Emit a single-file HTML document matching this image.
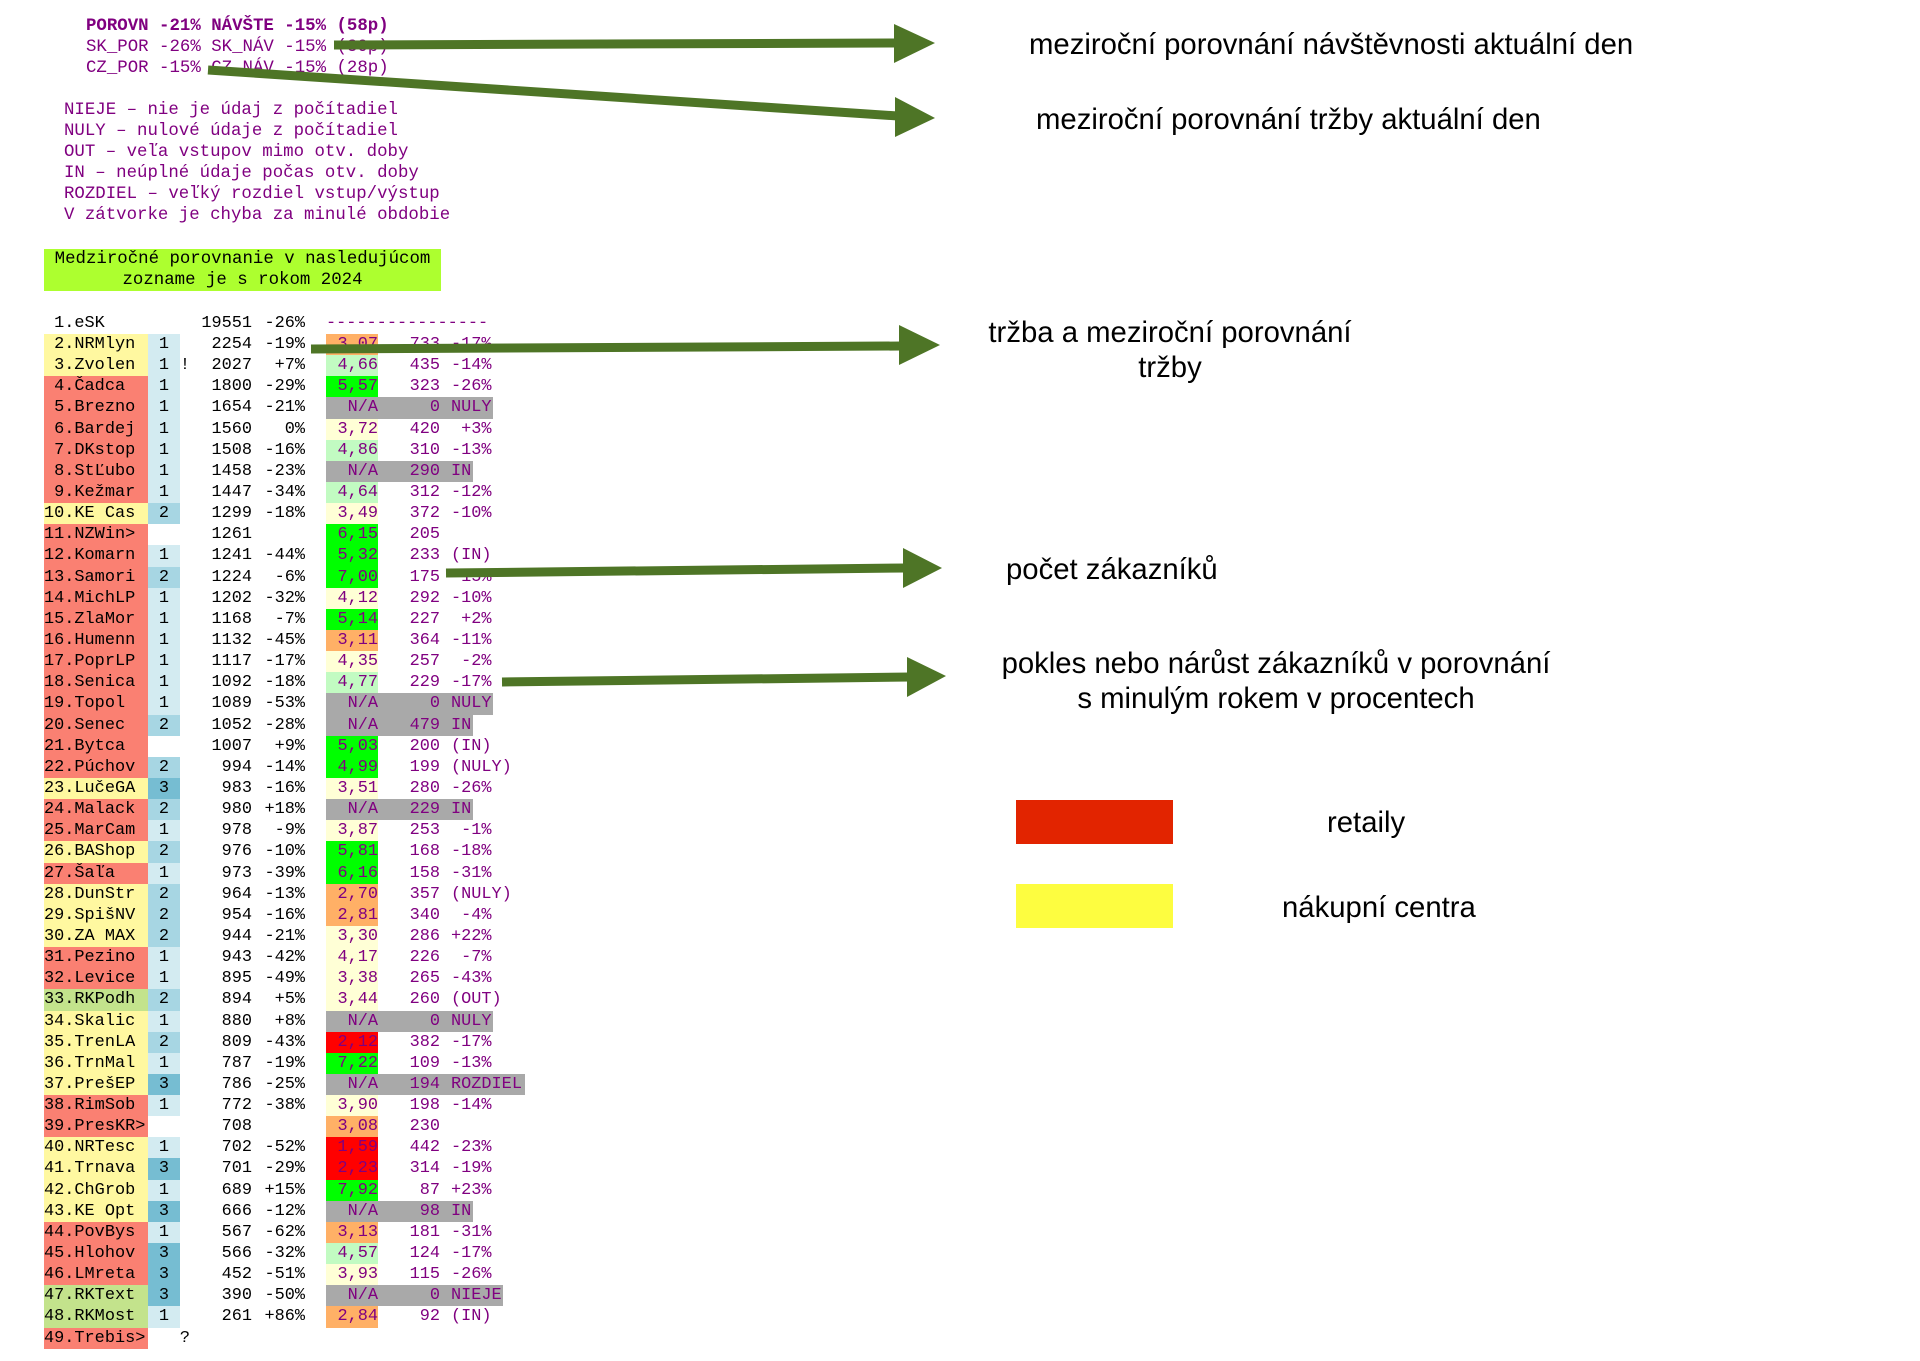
<!DOCTYPE html>
<html><head><meta charset="utf-8">
<style>
body{margin:0;background:#fff;width:1920px;height:1361px;position:relative;overflow:hidden}
.m{font-family:"Liberation Mono","DejaVu Sans Mono",monospace;white-space:pre;position:absolute}
.top{font-size:17.4px;color:#800080;line-height:21px}
.tb{position:absolute;left:0;top:334px;width:600px}
.r{position:relative;height:21.15px;font-family:"Liberation Mono",monospace;font-size:16.9px;line-height:21.15px;white-space:pre}
.r div{position:absolute;top:0;height:21.15px}
.n{left:44px;width:104px}
.S{background:#fa8072}.Y{background:#fff8a0}.K{background:#c3e38c}
.c{left:148px;width:32px;text-align:center}
.c1{background:#d3ebf1}.c2{background:#a7d6e3}.c3{background:#76bdd2}
.x{left:179px;width:12px;text-align:center}
.v{left:150px;width:102px;text-align:right}
.p{left:252px;width:53px;text-align:right}
.g{left:326px;background:#a9a9a9}
.s{left:326px;width:52px;text-align:right;color:#800080}
.O{background:#ffb066}.LG{background:#c2fbc2}.G{background:#00ff00}.LY{background:#ffffd6}.R{background:#ff0000}
.k{left:380px;width:60px;text-align:right;color:#800080}
.f{left:451px;color:#800080}
.a{position:absolute;font-family:"Liberation Sans",Arial,sans-serif;font-size:29.3px;line-height:30px;color:#000;white-space:nowrap}
</style></head><body>
<div class="m top" style="left:86px;top:16px;font-weight:bold">POROVN -21% NÁVŠTE -15% (58p)</div>
<div class="m top" style="left:86px;top:37px">SK_POR -26% SK_NÁV -15% (30p)</div>
<div class="m top" style="left:86px;top:58px">CZ_POR -15% CZ_NÁV -15% (28p)</div>
<div class="m top" style="left:64px;top:100px">NIEJE – nie je údaj z počítadiel
NULY – nulové údaje z počítadiel
OUT – veľa vstupov mimo otv. doby
IN – neúplné údaje počas otv. doby
ROZDIEL – veľký rozdiel vstup/výstup
V zátvorke je chyba za minulé obdobie</div>
<div class="m" style="left:44px;top:249px;width:397px;height:42px;background:#adff2f;font-size:17.4px;line-height:21px;text-align:center;color:#000">Medziročné porovnanie v nasledujúcom
zozname je s rokom 2024</div>

<div class="r" style="position:absolute;left:0;top:313px;width:600px"><div class="n"> 1.eSK</div><div class="v">19551</div><div class="p">-26%</div><div class="s" style="width:167px;text-align:left">----------------</div></div>

<div class="tb">
<div class="r"><div class="n Y"> 2.NRMlyn</div><div class="c c1">1</div><div class="v">2254</div><div class="p">-19%</div><div class="s O">3,07</div><div class="k">733</div><div class="f">-17%</div></div>
<div class="r"><div class="n Y"> 3.Zvolen</div><div class="c c1">1</div><div class="x">!</div><div class="v">2027</div><div class="p">+7%</div><div class="s LG">4,66</div><div class="k">435</div><div class="f">-14%</div></div>
<div class="r"><div class="n S"> 4.Čadca</div><div class="c c1">1</div><div class="v">1800</div><div class="p">-29%</div><div class="s G">5,57</div><div class="k">323</div><div class="f">-26%</div></div>
<div class="r"><div class="n S"> 5.Brezno</div><div class="c c1">1</div><div class="v">1654</div><div class="p">-21%</div><div class="g" style="width:167px"></div><div class="s">N/A</div><div class="k">0</div><div class="f">NULY</div></div>
<div class="r"><div class="n S"> 6.Bardej</div><div class="c c1">1</div><div class="v">1560</div><div class="p">0%</div><div class="s LY">3,72</div><div class="k">420</div><div class="f"> +3%</div></div>
<div class="r"><div class="n S"> 7.DKstop</div><div class="c c1">1</div><div class="v">1508</div><div class="p">-16%</div><div class="s LG">4,86</div><div class="k">310</div><div class="f">-13%</div></div>
<div class="r"><div class="n S"> 8.StĽubo</div><div class="c c1">1</div><div class="v">1458</div><div class="p">-23%</div><div class="g" style="width:147px"></div><div class="s">N/A</div><div class="k">290</div><div class="f">IN</div></div>
<div class="r"><div class="n S"> 9.Kežmar</div><div class="c c1">1</div><div class="v">1447</div><div class="p">-34%</div><div class="s LG">4,64</div><div class="k">312</div><div class="f">-12%</div></div>
<div class="r"><div class="n Y">10.KE Cas</div><div class="c c2">2</div><div class="v">1299</div><div class="p">-18%</div><div class="s LY">3,49</div><div class="k">372</div><div class="f">-10%</div></div>
<div class="r"><div class="n S">11.NZWin&gt;</div><div class="v">1261</div><div class="s G">6,15</div><div class="k">205</div></div>
<div class="r"><div class="n S">12.Komarn</div><div class="c c1">1</div><div class="v">1241</div><div class="p">-44%</div><div class="s G">5,32</div><div class="k">233</div><div class="f">(IN)</div></div>
<div class="r"><div class="n S">13.Samori</div><div class="c c2">2</div><div class="v">1224</div><div class="p">-6%</div><div class="s G">7,00</div><div class="k">175</div><div class="f">-15%</div></div>
<div class="r"><div class="n S">14.MichLP</div><div class="c c1">1</div><div class="v">1202</div><div class="p">-32%</div><div class="s LY">4,12</div><div class="k">292</div><div class="f">-10%</div></div>
<div class="r"><div class="n S">15.ZlaMor</div><div class="c c1">1</div><div class="v">1168</div><div class="p">-7%</div><div class="s G">5,14</div><div class="k">227</div><div class="f"> +2%</div></div>
<div class="r"><div class="n S">16.Humenn</div><div class="c c1">1</div><div class="v">1132</div><div class="p">-45%</div><div class="s O">3,11</div><div class="k">364</div><div class="f">-11%</div></div>
<div class="r"><div class="n S">17.PoprLP</div><div class="c c1">1</div><div class="v">1117</div><div class="p">-17%</div><div class="s LY">4,35</div><div class="k">257</div><div class="f"> -2%</div></div>
<div class="r"><div class="n S">18.Senica</div><div class="c c1">1</div><div class="v">1092</div><div class="p">-18%</div><div class="s LG">4,77</div><div class="k">229</div><div class="f">-17%</div></div>
<div class="r"><div class="n S">19.Topol</div><div class="c c1">1</div><div class="v">1089</div><div class="p">-53%</div><div class="g" style="width:167px"></div><div class="s">N/A</div><div class="k">0</div><div class="f">NULY</div></div>
<div class="r"><div class="n S">20.Senec</div><div class="c c2">2</div><div class="v">1052</div><div class="p">-28%</div><div class="g" style="width:147px"></div><div class="s">N/A</div><div class="k">479</div><div class="f">IN</div></div>
<div class="r"><div class="n S">21.Bytca</div><div class="v">1007</div><div class="p">+9%</div><div class="s G">5,03</div><div class="k">200</div><div class="f">(IN)</div></div>
<div class="r"><div class="n S">22.Púchov</div><div class="c c2">2</div><div class="v">994</div><div class="p">-14%</div><div class="s G">4,99</div><div class="k">199</div><div class="f">(NULY)</div></div>
<div class="r"><div class="n Y">23.LučeGA</div><div class="c c3">3</div><div class="v">983</div><div class="p">-16%</div><div class="s LY">3,51</div><div class="k">280</div><div class="f">-26%</div></div>
<div class="r"><div class="n S">24.Malack</div><div class="c c2">2</div><div class="v">980</div><div class="p">+18%</div><div class="g" style="width:147px"></div><div class="s">N/A</div><div class="k">229</div><div class="f">IN</div></div>
<div class="r"><div class="n S">25.MarCam</div><div class="c c1">1</div><div class="v">978</div><div class="p">-9%</div><div class="s LY">3,87</div><div class="k">253</div><div class="f"> -1%</div></div>
<div class="r"><div class="n Y">26.BAShop</div><div class="c c2">2</div><div class="v">976</div><div class="p">-10%</div><div class="s G">5,81</div><div class="k">168</div><div class="f">-18%</div></div>
<div class="r"><div class="n S">27.Šaľa</div><div class="c c1">1</div><div class="v">973</div><div class="p">-39%</div><div class="s G">6,16</div><div class="k">158</div><div class="f">-31%</div></div>
<div class="r"><div class="n Y">28.DunStr</div><div class="c c2">2</div><div class="v">964</div><div class="p">-13%</div><div class="s O">2,70</div><div class="k">357</div><div class="f">(NULY)</div></div>
<div class="r"><div class="n Y">29.SpišNV</div><div class="c c2">2</div><div class="v">954</div><div class="p">-16%</div><div class="s O">2,81</div><div class="k">340</div><div class="f"> -4%</div></div>
<div class="r"><div class="n Y">30.ZA MAX</div><div class="c c2">2</div><div class="v">944</div><div class="p">-21%</div><div class="s LY">3,30</div><div class="k">286</div><div class="f">+22%</div></div>
<div class="r"><div class="n S">31.Pezino</div><div class="c c1">1</div><div class="v">943</div><div class="p">-42%</div><div class="s LY">4,17</div><div class="k">226</div><div class="f"> -7%</div></div>
<div class="r"><div class="n S">32.Levice</div><div class="c c1">1</div><div class="v">895</div><div class="p">-49%</div><div class="s LY">3,38</div><div class="k">265</div><div class="f">-43%</div></div>
<div class="r"><div class="n K">33.RKPodh</div><div class="c c2">2</div><div class="v">894</div><div class="p">+5%</div><div class="s LY">3,44</div><div class="k">260</div><div class="f">(OUT)</div></div>
<div class="r"><div class="n Y">34.Skalic</div><div class="c c1">1</div><div class="v">880</div><div class="p">+8%</div><div class="g" style="width:167px"></div><div class="s">N/A</div><div class="k">0</div><div class="f">NULY</div></div>
<div class="r"><div class="n Y">35.TrenLA</div><div class="c c2">2</div><div class="v">809</div><div class="p">-43%</div><div class="s R">2,12</div><div class="k">382</div><div class="f">-17%</div></div>
<div class="r"><div class="n Y">36.TrnMal</div><div class="c c1">1</div><div class="v">787</div><div class="p">-19%</div><div class="s G">7,22</div><div class="k">109</div><div class="f">-13%</div></div>
<div class="r"><div class="n Y">37.PrešEP</div><div class="c c3">3</div><div class="v">786</div><div class="p">-25%</div><div class="g" style="width:199px"></div><div class="s">N/A</div><div class="k">194</div><div class="f">ROZDIEL</div></div>
<div class="r"><div class="n S">38.RimSob</div><div class="c c1">1</div><div class="v">772</div><div class="p">-38%</div><div class="s LY">3,90</div><div class="k">198</div><div class="f">-14%</div></div>
<div class="r"><div class="n S">39.PresKR&gt;</div><div class="v">708</div><div class="s O">3,08</div><div class="k">230</div></div>
<div class="r"><div class="n Y">40.NRTesc</div><div class="c c1">1</div><div class="v">702</div><div class="p">-52%</div><div class="s R">1,59</div><div class="k">442</div><div class="f">-23%</div></div>
<div class="r"><div class="n Y">41.Trnava</div><div class="c c3">3</div><div class="v">701</div><div class="p">-29%</div><div class="s R">2,23</div><div class="k">314</div><div class="f">-19%</div></div>
<div class="r"><div class="n Y">42.ChGrob</div><div class="c c1">1</div><div class="v">689</div><div class="p">+15%</div><div class="s G">7,92</div><div class="k">87</div><div class="f">+23%</div></div>
<div class="r"><div class="n Y">43.KE Opt</div><div class="c c3">3</div><div class="v">666</div><div class="p">-12%</div><div class="g" style="width:147px"></div><div class="s">N/A</div><div class="k">98</div><div class="f">IN</div></div>
<div class="r"><div class="n S">44.PovBys</div><div class="c c1">1</div><div class="v">567</div><div class="p">-62%</div><div class="s O">3,13</div><div class="k">181</div><div class="f">-31%</div></div>
<div class="r"><div class="n S">45.Hlohov</div><div class="c c3">3</div><div class="v">566</div><div class="p">-32%</div><div class="s LG">4,57</div><div class="k">124</div><div class="f">-17%</div></div>
<div class="r"><div class="n S">46.LMreta</div><div class="c c3">3</div><div class="v">452</div><div class="p">-51%</div><div class="s LY">3,93</div><div class="k">115</div><div class="f">-26%</div></div>
<div class="r"><div class="n K">47.RKText</div><div class="c c3">3</div><div class="v">390</div><div class="p">-50%</div><div class="g" style="width:177px"></div><div class="s">N/A</div><div class="k">0</div><div class="f">NIEJE</div></div>
<div class="r"><div class="n K">48.RKMost</div><div class="c c1">1</div><div class="v">261</div><div class="p">+86%</div><div class="s O">2,84</div><div class="k">92</div><div class="f">(IN)</div></div>
<div class="r"><div class="n S">49.Trebis&gt;</div><div class="x">?</div></div>
</div>

<div class="a" style="left:1029px;top:30px">meziroční porovnání návštěvnosti aktuální den</div>
<div class="a" style="left:1036px;top:105px">meziroční porovnání tržby aktuální den</div>
<div class="a" style="left:970px;top:315px;width:400px;text-align:center;line-height:35px">tržba a meziroční porovnání<br>tržby</div>
<div class="a" style="left:1006px;top:555px">počet zákazníků</div>
<div class="a" style="left:976px;top:646px;width:600px;text-align:center;line-height:35px">pokles nebo nárůst zákazníků v porovnání<br>s minulým rokem v procentech</div>
<div style="position:absolute;left:1016px;top:800px;width:157px;height:44px;background:#e22400"></div>
<div class="a" style="left:1327px;top:808px">retaily</div>
<div style="position:absolute;left:1016px;top:884px;width:157px;height:44px;background:#fdfd40"></div>
<div class="a" style="left:1282px;top:893px">nákupní centra</div>

<svg width="1920" height="1361" style="position:absolute;left:0;top:0" xmlns="http://www.w3.org/2000/svg">
<g stroke="#4e7526" stroke-width="9" fill="none">
<line x1="334" y1="45" x2="898" y2="43"/>
<line x1="208" y1="70" x2="898" y2="116"/>
<line x1="311" y1="349" x2="902" y2="346"/>
<line x1="446" y1="573" x2="906" y2="568"/>
<line x1="502" y1="682" x2="910" y2="677"/>
</g>
<g fill="#4e7526">
<polygon points="894,24 935,43 894,63"/>
<polygon points="895,97 935,118 895,137"/>
<polygon points="899,325 940,345 899,365"/>
<polygon points="903,548 942,568 903,588"/>
<polygon points="907,657 946,676 907,697"/>
</g>
</svg>
</body></html>
